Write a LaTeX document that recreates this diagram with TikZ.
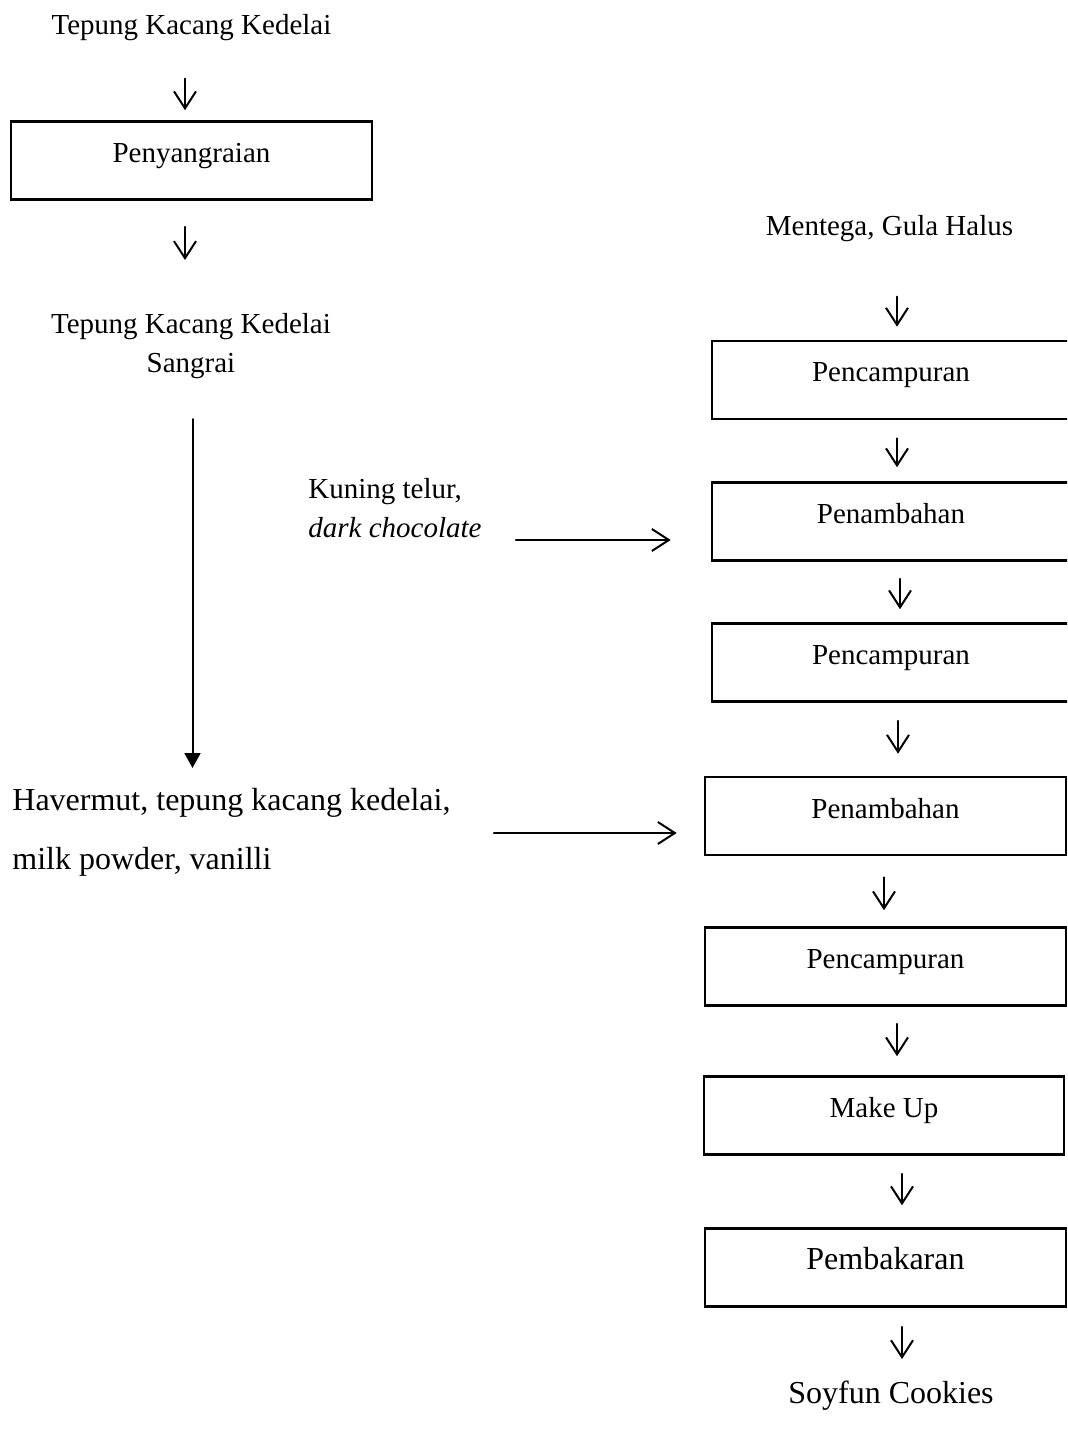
\documentclass[tikz,border=0pt]{standalone}
\usepackage{fontspec}
\setmainfont{Liberation Serif}
\usetikzlibrary{arrows.meta}

\begin{document}
\begin{tikzpicture}[x=.5pt,y=-.5pt,line cap=round,line join=round,
  procbox/.style={draw,line width=1.3pt,line cap=butt,line join=miter,
    minimum width=#1,minimum height=39pt,inner sep=0pt,
    text height=2pt,text depth=0pt,font=\fontsize{14.5}{17}\selectfont},
  txt/.style={inner sep=0pt,font=\fontsize{14.5}{19.5}\selectfont},
  big/.style={inner sep=0pt,font=\fontsize{16}{29.5}\selectfont},
  flow/.style={line width=1pt,-{Straight Barb[length=8.5pt,width=11pt]}},
  longflow/.style={line width=1pt,-{Triangle[length=7.5pt,width=8pt]}}]
  \useasboundingbox (0,0) rectangle (1067,1438);
  \clip (0,0) rectangle (1067,1438);

  % left column
  \node[txt,anchor=base] (t1) at (191.5,35) {Tepung Kacang Kedelai};
  \node[procbox=180.5pt] (b1) at (191.5,160.5) {Penyangraian};
  \node[txt,anchor=north,align=center] (t2) at (191,313) {Tepung Kacang Kedelai\\Sangrai};
  \node[txt,anchor=north west,align=left,font=\fontsize{14.5}{19.5}\selectfont] (kt) at (308,478)
    {Kuning telur,\\\textit{dark chocolate}};
  \node[big,anchor=north west,align=left] (hv) at (12,788)
    {Havermut, tepung kacang kedelai,\\milk powder, vanilli};

  % right column
  \node[txt,anchor=base] (m0) at (889.5,236) {Mentega, Gula Halus};
  \node[procbox=179pt] (b2) at (891,380) {Pencampuran};
  \node[procbox=179pt] (b3) at (891,521.5) {Penambahan};
  \node[procbox=179pt] (b4) at (891,662.5) {Pencampuran};
  \node[procbox=180.5pt] (b5) at (885.5,816) {Penambahan};
  \node[procbox=180.5pt] (b6) at (885.5,966.5) {Pencampuran};
  \node[procbox=180pt] (b7) at (884,1115.5) {Make Up};
  \node[procbox=180.5pt,font=\fontsize{16}{19}\selectfont] (b8) at (885.5,1267.5) {Pembakaran};
  \node[big,anchor=base] (so) at (891,1403) {Soyfun Cookies};

  % arrows
  \draw[flow,shorten <=18.5pt,shorten >=5pt] ([xshift=-3.25pt]t1.south) -- ([xshift=-3.25pt]t1.south |- b1.north);
  \draw[flow,shorten <=13pt,shorten >=26.5pt] ([xshift=-3.25pt]b1.south) -- ([xshift=-3.25pt]b1.south |- t2.north);
  \draw[longflow,shorten <=20pt,shorten >=10pt] ([xshift=.75pt]t2.south) -- ([xshift=.75pt]t2.south |- hv.north);
  \coordinate (k3) at ([yshift=-9.25pt]b3.west);
  \draw[flow,shorten <=17pt,shorten >=20pt] (kt.east |- k3) -- (k3);
  \coordinate (k5) at ([yshift=-8.5pt]b5.west);
  \draw[flow,shorten <=21.5pt,shorten >=13.5pt] (hv.east |- k5) -- (k5);

  \draw[flow,shorten <=27pt,shorten >=6.5pt] ([xshift=3.75pt]m0.south) -- ([xshift=3.75pt]m0.south |- b2.north);
  \draw[flow,shorten <=9pt,shorten >=7pt] ([xshift=3pt]b2.south) -- ([xshift=3pt]b2.south |- b3.north);
  \draw[flow,shorten <=8.5pt,shorten >=6.5pt] ([xshift=4.5pt]b3.south) -- ([xshift=4.5pt]b3.south |- b4.north);
  \draw[flow,shorten <=9pt,shorten >=11pt] ([xshift=3.5pt]b4.south) -- ([xshift=3.5pt]b4.south |- b5.north);
  \draw[flow,shorten <=10.5pt,shorten >=8pt] ([xshift=-.75pt]b5.south) -- ([xshift=-.75pt]b5.south |- b6.north);
  \draw[flow,shorten <=8.5pt,shorten >=9.5pt] ([xshift=5.75pt]b6.south) -- ([xshift=5.75pt]b6.south |- b7.north);
  \draw[flow,shorten <=9pt,shorten >=11pt] ([xshift=9pt]b7.south) -- ([xshift=9pt]b7.south |- b8.north);
  \draw[flow,shorten <=9.5pt,shorten >=10.5pt] ([xshift=8.25pt]b8.south) -- ([xshift=8.25pt]b8.south |- so.north);
\end{tikzpicture}
\end{document}
